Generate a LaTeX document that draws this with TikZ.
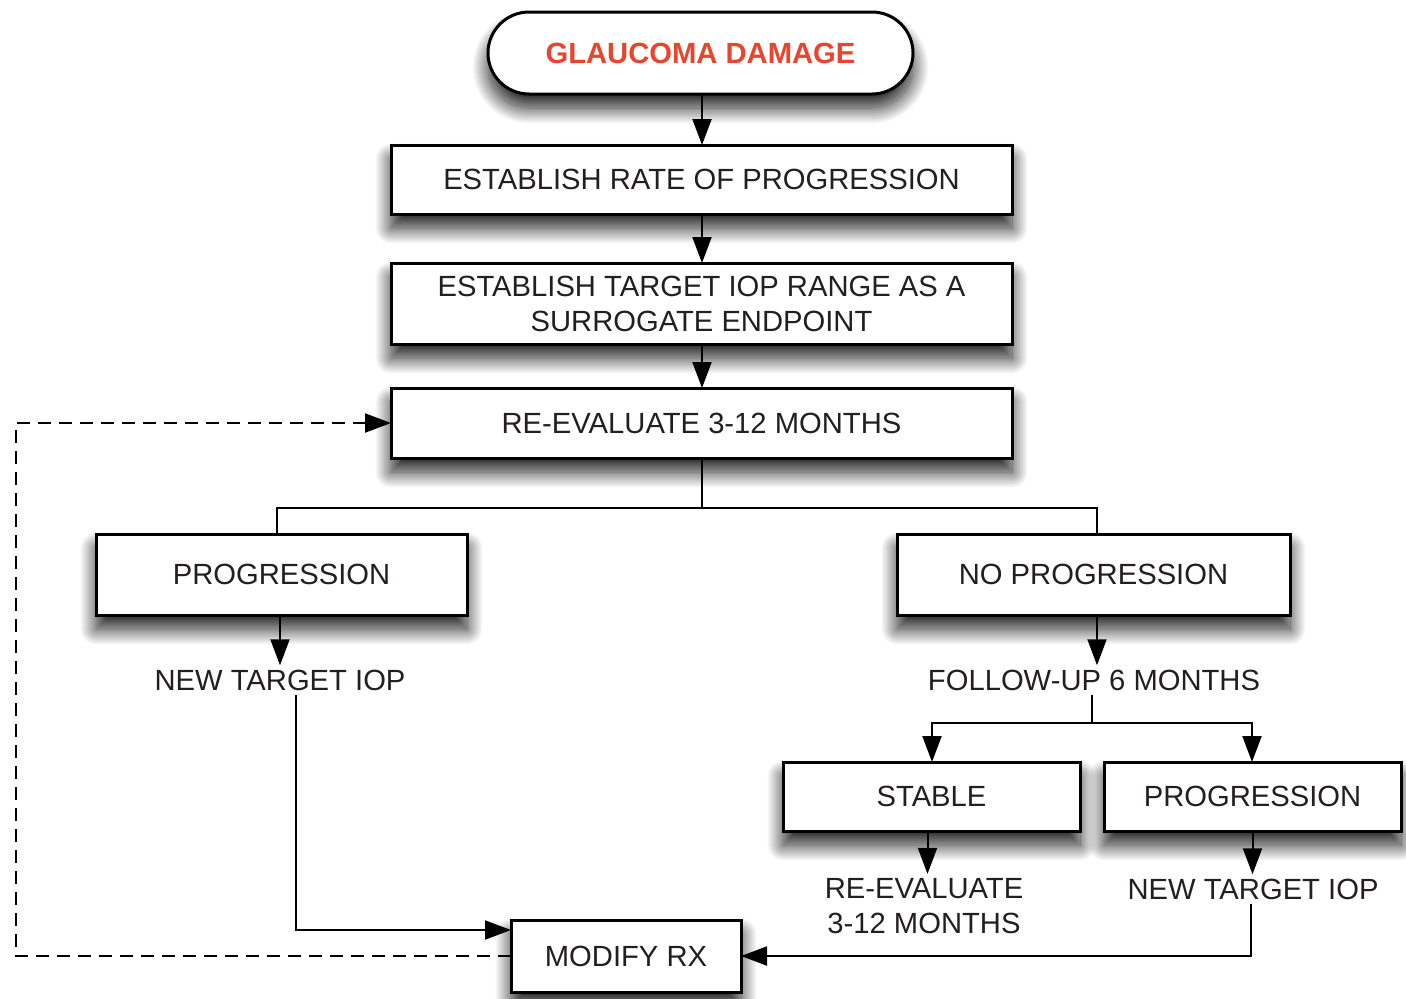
\documentclass[tikz,border=0pt]{standalone}
\usepackage{fontspec}
\setmainfont{Liberation Sans}
\usetikzlibrary{shapes.misc,shadows.blur,arrows.meta}
\definecolor{txt}{HTML}{231F20}
\definecolor{titlered}{HTML}{E8452F}
\begin{document}
\begin{tikzpicture}[x=0.5pt,y=-0.5pt,
  boxbase/.style={draw=black,line width=1.5pt,fill=white,inner sep=0pt,outer sep=0pt,
    text=txt,font=\fontsize{14.6pt}{17.5pt}\selectfont,align=center,
    blur shadow={shadow xshift=0pt,shadow yshift=-7pt,shadow blur radius=8pt,shadow opacity=90,shadow blur steps=40}},
  plain/.style={text=txt,font=\fontsize{14.6pt}{17.5pt}\selectfont,align=center,inner sep=2pt},
  tip/.style={-{Triangle[length=13pt,width=9.5pt]}},
  arr/.style={line width=1pt,tip},
  ln/.style={line width=1pt},
  dsh/.style={line width=1.1pt,dash pattern=on 6.5pt off 4pt}]
\useasboundingbox (0,0) rectangle (1406,998);
\node[boxbase,rounded rectangle,minimum width=212.5pt,minimum height=41pt,
  text=titlered,font=\fontsize{14.6pt}{17pt}\selectfont\bfseries] (oval) at (700.5,53) {GLAUCOMA DAMAGE};
\node[boxbase,minimum width=310.5pt,minimum height=34.5pt] (b1) at (701.5,179.5) {ESTABLISH RATE OF PROGRESSION};
\node[boxbase,minimum width=310.5pt,minimum height=40.5pt] (b2) at (701.5,303.5) {ESTABLISH TARGET IOP RANGE AS A\\SURROGATE ENDPOINT};
\node[boxbase,minimum width=310.5pt,minimum height=35pt] (b3) at (701.5,423) {RE-EVALUATE 3-12 MONTHS};
\node[boxbase,minimum width=185.5pt,minimum height=40.5pt] (lprog) at (281.5,574.5) {PROGRESSION};
\node[boxbase,minimum width=196.5pt,minimum height=40.5pt] (noprog) at (1093.5,574.5) {NO PROGRESSION};
\node[boxbase,minimum width=148.5pt,minimum height=34.5pt] (stable) at (931.5,796.5) {STABLE};
\node[boxbase,minimum width=148.5pt,minimum height=34.5pt] (rprog) at (1252.5,796.5) {PROGRESSION};
\node[boxbase,minimum width=115pt,minimum height=36pt] (modify) at (626,956) {MODIFY RX};
\node[plain] (nt1) at (280,680) {NEW TARGET IOP};
\node[plain] (fu) at (1094,680) {FOLLOW-UP 6 MONTHS};
\node[plain] (reev) at (924,906) {RE-EVALUATE\\3-12 MONTHS};
\node[plain] (nt2) at (1253,889) {NEW TARGET IOP};
\coordinate (c0) at (702,0);
\coordinate (bc) at (702,508);
\coordinate (bl) at (277,508);
\coordinate (br) at (1097,508);
\coordinate (fb) at (1092,723);
\coordinate (fl) at (932,723);
\coordinate (fr) at (1252,723);
\coordinate (dl) at (16,700);
\coordinate (lx) at (296,0);
\draw[arr] (c0 |- oval.south) -- (c0 |- b1.north);
\draw[arr] (c0 |- b1.south) -- (c0 |- b2.north);
\draw[arr] (c0 |- b2.south) -- (c0 |- b3.north);
\draw[ln] (c0 |- b3.south) -- (bc);
\draw[ln] (bl |- lprog.north) -- (bl) -- (br) -- (br |- noprog.north);
\draw[arr] (nt1.north |- lprog.south) -- (nt1.north);
\draw[arr] (lx |- nt1.south) |- ([yshift=13pt]modify.west);
\draw[dsh,tip] (modify.west) -- (modify.west -| dl) -- (dl |- b3.west) -- (b3.west);
\draw[arr] (br |- noprog.south) -- (br |- fu.north);
\draw[ln] (fb |- fu.south) -- (fb);
\draw[arr] (fb) -- (fl) -- (fl |- stable.north);
\draw[arr] (fb) -- (fr) -- (fr |- rprog.north);
\draw[arr] ([xshift=-2pt]stable.south) -- ([xshift=-2pt]stable.south |- reev.north);
\draw[arr] (rprog.south) -- (rprog.south |- nt2.north);
\draw[arr] ([xshift=-1pt]nt2.south) |- (modify.east);
\end{tikzpicture}
\end{document}
